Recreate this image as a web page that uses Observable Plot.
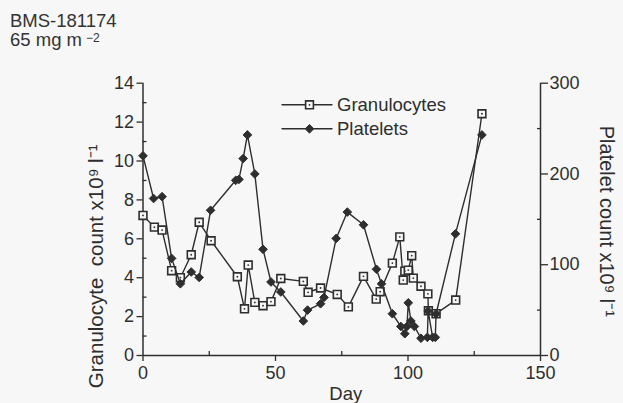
<!DOCTYPE html>
<html><head><meta charset="utf-8">
<script src="https://cdn.jsdelivr.net/npm/d3@7"></script>
<script src="https://cdn.jsdelivr.net/npm/@observablehq/plot@0.6"></script>
<style>
body{margin:0;background:#f7f7f7;font-family:"Liberation Sans",Arial,sans-serif;color:#333}
#title{height:55px;box-sizing:border-box;padding:11px 0 0 10px;font-size:18.5px;line-height:19.4px}
#title sup{font-size:12px;line-height:0;vertical-align:4px;margin-left:4px}
</style></head><body>
<div id="title">BMS-181174<br>65 mg m<sup>−2</sup></div>
<div id="chart"></div>
<script>
// Granulocytes (left axis, x10^9/l)
const granDays   = [0, 4.3, 7.2, 10.8, 14.1, 18.2, 21.2, 25.7, 35.6, 38.3, 39.7, 42.2, 45.3, 48.3, 52, 60.5, 62.3, 67, 73.3, 77.5, 83.2, 88, 89.5, 94.1, 96.9, 98.2, 98.8, 100.1, 101.4, 102, 104.9, 107.5, 107.7, 110.6, 118, 127.9];
const granValues = [7.2, 6.6, 6.45, 4.36, 4.0, 5.18, 6.85, 5.9, 4.05, 2.4, 4.65, 2.73, 2.56, 2.77, 3.96, 3.81, 3.25, 3.47, 3.14, 2.5, 4.07, 2.9, 3.28, 4.75, 6.1, 3.88, 4.34, 4.39, 5.13, 3.98, 3.56, 3.17, 2.3, 2.15, 2.85, 12.43];
// Platelets (right axis, x10^9/l)
const plateletDays   = [0, 4, 7.2, 10.8, 14.1, 18.2, 21.2, 25.5, 35, 36.2, 37.8, 39.4, 42.2, 45.3, 48.3, 52, 60.5, 62.1, 67, 68.3, 72.9, 77.1, 83.2, 88.1, 90, 94.1, 97.3, 98.8, 99.6, 100.1, 101.1, 102.4, 104.9, 107.3, 107.6, 109.3, 110.3, 110.6, 117.9, 127.9];
const plateletValues = [220, 173, 175, 107, 79, 92, 86, 160, 193, 194, 217, 243, 200, 117, 81, 70, 38, 50, 57, 64, 129, 158, 144, 95, 79, 46, 32, 24, 32, 58, 38, 32, 19, 20, 49, 20, 20, 46, 134, 243];

const xTicks = [0, 50, 100, 150];
const xMinorTicks = [25, 75, 125];
const leftTicks = [0, 2, 4, 6, 8, 10, 12, 14];
const leftMinorTicks = [1, 3, 5, 7, 9, 11, 13];
const rightTicks = [0, 100, 200, 300];
const rightMinorTicks = [50, 150, 250];
const seriesNames = ["Granulocytes", "Platelets"];
const xLabel = "Day";
const leftLabel = "Granulocyte  count x10⁹ l⁻¹";
const rightLabel = "Platelet count x10⁹ l⁻¹";

const leftMax = 14, rightMax = 300;
const k = leftMax / rightMax;
const gran = granDays.map((d, i) => ({day: d, value: granValues[i]}));
const platelets = plateletDays.map((d, i) => ({day: d, value: plateletValues[i] * k}));

const ink = "#2e2e2e";
const bg = "#f7f7f7";
const lineShape = {draw(context, l) { context.moveTo(0, 0); context.lineTo(0, -l); }};

const legendMarks = seriesNames.flatMap((name, i) => {
  const dy = 21.6 + i * 24;
  const marks = [
    Plot.vector([name], {frameAnchor: "top-left", dx: 139, dy, length: 50, rotate: 90, anchor: "start", shape: lineShape, stroke: ink, strokeWidth: 1.4}),
    Plot.text([name], {frameAnchor: "top-left", dx: 194, dy, textAnchor: "start", lineAnchor: "middle", fontSize: 18.5, fill: ink})
  ];
  if (i === 0) {
    marks.push(Plot.dot([name], {frameAnchor: "top-left", dx: 166.5, dy, symbol: "square", r: 4.4, fill: bg, stroke: ink, strokeWidth: 1.6}));
    marks.push(Plot.dot([name], {frameAnchor: "top-left", dx: 166.5, dy, r: 0.9, fill: ink}));
  } else {
    marks.push(Plot.dot([name], {frameAnchor: "top-left", dx: 166.5, dy, symbol: "diamond2", r: 3.9, fill: ink, stroke: ink, strokeWidth: 1}));
  }
  return marks;
});

const chart = Plot.plot({
  width: 623,
  height: 348,
  marginLeft: 142.5,
  marginRight: 83,
  marginTop: 27.7,
  marginBottom: 48,
  style: {fontFamily: "'Liberation Sans', Arial, sans-serif", fontSize: "18px", background: "transparent", color: ink},
  x: {domain: [0, 150]},
  y: {domain: [0, leftMax]},
  marks: [
    Plot.ruleX([0, 150], {y1: 0, y2: leftMax, stroke: ink, strokeWidth: 1.5}),
    Plot.ruleY([0], {x1: 0, x2: 150, stroke: ink, strokeWidth: 1.5}),
    Plot.axisX(xTicks, {anchor: "bottom", tickSize: 6, tickPadding: 5, label: null, strokeWidth: 1.3}),
    Plot.axisX(xMinorTicks, {anchor: "bottom", tickSize: 4, dy: -4, tickFormat: () => "", label: null, strokeWidth: 1.3}),
    Plot.axisY(leftTicks, {anchor: "left", tickSize: 6, tickPadding: 3, label: null, strokeWidth: 1.3}),
    Plot.axisY(leftMinorTicks, {anchor: "left", tickSize: 4, dx: 4, tickFormat: () => "", label: null, strokeWidth: 1.3}),
    Plot.axisY(rightTicks.map(v => v * k), {anchor: "right", tickSize: 7, tickPadding: 2, tickFormat: d => Math.round(d / k), label: null, strokeWidth: 1.3}),
    Plot.axisY(rightMinorTicks.map(v => v * k), {anchor: "right", tickSize: 4, dx: -4, tickFormat: () => "", label: null, strokeWidth: 1.3}),
    Plot.text([xLabel], {frameAnchor: "bottom", dx: 4, dy: 39, textAnchor: "middle", lineAnchor: "middle", fontSize: 18.5, fill: ink}),
    Plot.text([leftLabel], {frameAnchor: "left", rotate: -90, dx: -47, dy: 47, textAnchor: "middle", lineAnchor: "middle", fontSize: 20.5, fill: ink}),
    Plot.text([rightLabel], {frameAnchor: "right", rotate: 90, dx: 66, dy: 2, textAnchor: "middle", lineAnchor: "middle", fontSize: 20, fill: ink}),
    Plot.line(gran, {x: "day", y: "value", stroke: ink, strokeWidth: 1.4}),
    Plot.dot(gran, {x: "day", y: "value", symbol: "square", r: 4.4, fill: bg, stroke: ink, strokeWidth: 1.6}),
    Plot.dot(gran, {x: "day", y: "value", r: 0.9, fill: ink}),
    Plot.line(platelets, {x: "day", y: "value", stroke: ink, strokeWidth: 1.4}),
    Plot.dot(platelets, {x: "day", y: "value", symbol: "diamond2", r: 3.9, fill: ink, stroke: ink, strokeWidth: 1}),
    ...legendMarks
  ]
});
document.getElementById("chart").append(chart);
</script>
</body></html>
